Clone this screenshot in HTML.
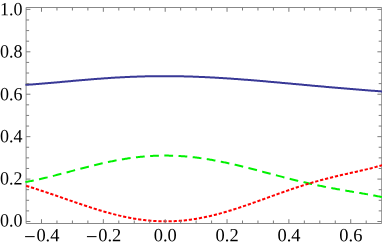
<!DOCTYPE html><html><head><meta charset="utf-8"><style>html,body{margin:0;padding:0;background:#fff}svg{display:block}svg{will-change:transform}text{text-rendering:geometricPrecision;font-family:"Liberation Serif",serif;font-size:18px;fill:#000}</style></head><body>
<svg width="382" height="245" viewBox="0 0 382 245">
<title>Plot of three curves (solid blue, dashed green, dotted red) over x from -0.45 to 0.7</title>
<rect width="382" height="245" fill="#fff"/>
<path d="M26.10 7.50 H381.70 V223.50 H26.10 Z" fill="none" stroke="#888888" stroke-width="1"/>
<g fill="none" stroke-linejoin="round">
<path d="M25.40 84.87 L26.40 84.81 L27.40 84.74 L28.40 84.68 L29.40 84.61 L30.40 84.54 L31.40 84.47 L32.40 84.40 L33.40 84.33 L34.40 84.25 L35.40 84.18 L36.40 84.10 L37.40 84.03 L38.40 83.95 L39.40 83.87 L40.40 83.79 L41.40 83.71 L42.40 83.62 L43.40 83.54 L44.40 83.46 L45.40 83.37 L46.40 83.29 L47.40 83.20 L48.40 83.12 L49.40 83.03 L50.40 82.94 L51.40 82.85 L52.40 82.77 L53.40 82.68 L54.40 82.59 L55.40 82.50 L56.40 82.41 L57.40 82.32 L58.40 82.23 L59.40 82.14 L60.40 82.05 L61.40 81.96 L62.40 81.87 L63.40 81.78 L64.40 81.68 L65.40 81.59 L66.40 81.50 L67.40 81.41 L68.40 81.32 L69.40 81.23 L70.40 81.14 L71.40 81.05 L72.40 80.96 L73.40 80.87 L74.40 80.78 L75.40 80.69 L76.40 80.60 L77.40 80.51 L78.40 80.42 L79.40 80.34 L80.40 80.25 L81.40 80.16 L82.40 80.08 L83.40 79.99 L84.40 79.90 L85.40 79.82 L86.40 79.74 L87.40 79.65 L88.40 79.57 L89.40 79.49 L90.40 79.40 L91.40 79.32 L92.40 79.24 L93.40 79.16 L94.40 79.08 L95.40 79.01 L96.40 78.93 L97.40 78.85 L98.40 78.77 L99.40 78.70 L100.40 78.63 L101.40 78.55 L102.40 78.48 L103.40 78.41 L104.40 78.34 L105.40 78.27 L106.40 78.20 L107.40 78.13 L108.40 78.06 L109.40 78.00 L110.40 77.93 L111.40 77.87 L112.40 77.81 L113.40 77.74 L114.40 77.68 L115.40 77.62 L116.40 77.57 L117.40 77.51 L118.40 77.45 L119.40 77.40 L120.40 77.34 L121.40 77.29 L122.40 77.24 L123.40 77.18 L124.40 77.13 L125.40 77.09 L126.40 77.04 L127.40 76.99 L128.40 76.95 L129.40 76.90 L130.40 76.86 L131.40 76.82 L132.40 76.78 L133.40 76.74 L134.40 76.70 L135.40 76.66 L136.40 76.63 L137.40 76.59 L138.40 76.56 L139.40 76.53 L140.40 76.50 L141.40 76.47 L142.40 76.44 L143.40 76.41 L144.40 76.39 L145.40 76.36 L146.40 76.34 L147.40 76.32 L148.40 76.30 L149.40 76.28 L150.40 76.26 L151.40 76.25 L152.40 76.23 L153.40 76.22 L154.40 76.20 L155.40 76.19 L156.40 76.18 L157.40 76.17 L158.40 76.16 L159.40 76.16 L160.40 76.15 L161.40 76.15 L162.40 76.14 L163.40 76.14 L164.40 76.14 L165.40 76.14 L166.40 76.14 L167.40 76.15 L168.40 76.15 L169.40 76.16 L170.40 76.17 L171.40 76.17 L172.40 76.18 L173.40 76.19 L174.40 76.21 L175.40 76.22 L176.40 76.23 L177.40 76.25 L178.40 76.27 L179.40 76.28 L180.40 76.30 L181.40 76.32 L182.40 76.34 L183.40 76.37 L184.40 76.39 L185.40 76.42 L186.40 76.44 L187.40 76.47 L188.40 76.50 L189.40 76.53 L190.40 76.56 L191.40 76.59 L192.40 76.62 L193.40 76.66 L194.40 76.69 L195.40 76.73 L196.40 76.76 L197.40 76.80 L198.40 76.84 L199.40 76.88 L200.40 76.92 L201.40 76.97 L202.40 77.01 L203.40 77.05 L204.40 77.10 L205.40 77.15 L206.40 77.19 L207.40 77.24 L208.40 77.29 L209.40 77.34 L210.40 77.39 L211.40 77.45 L212.40 77.50 L213.40 77.55 L214.40 77.61 L215.40 77.66 L216.40 77.72 L217.40 77.78 L218.40 77.84 L219.40 77.90 L220.40 77.96 L221.40 78.02 L222.40 78.08 L223.40 78.14 L224.40 78.21 L225.40 78.27 L226.40 78.34 L227.40 78.40 L228.40 78.47 L229.40 78.54 L230.40 78.60 L231.40 78.67 L232.40 78.74 L233.40 78.81 L234.40 78.88 L235.40 78.96 L236.40 79.03 L237.40 79.10 L238.40 79.18 L239.40 79.25 L240.40 79.33 L241.40 79.40 L242.40 79.48 L243.40 79.55 L244.40 79.63 L245.40 79.71 L246.40 79.79 L247.40 79.87 L248.40 79.95 L249.40 80.03 L250.40 80.11 L251.40 80.19 L252.40 80.27 L253.40 80.35 L254.40 80.43 L255.40 80.52 L256.40 80.60 L257.40 80.68 L258.40 80.77 L259.40 80.85 L260.40 80.94 L261.40 81.02 L262.40 81.11 L263.40 81.20 L264.40 81.28 L265.40 81.37 L266.40 81.46 L267.40 81.54 L268.40 81.63 L269.40 81.72 L270.40 81.81 L271.40 81.90 L272.40 81.98 L273.40 82.07 L274.40 82.16 L275.40 82.25 L276.40 82.34 L277.40 82.43 L278.40 82.52 L279.40 82.61 L280.40 82.70 L281.40 82.79 L282.40 82.88 L283.40 82.97 L284.40 83.07 L285.40 83.16 L286.40 83.25 L287.40 83.34 L288.40 83.43 L289.40 83.52 L290.40 83.61 L291.40 83.71 L292.40 83.80 L293.40 83.89 L294.40 83.98 L295.40 84.07 L296.40 84.16 L297.40 84.26 L298.40 84.35 L299.40 84.44 L300.40 84.53 L301.40 84.62 L302.40 84.71 L303.40 84.81 L304.40 84.90 L305.40 84.99 L306.40 85.08 L307.40 85.17 L308.40 85.26 L309.40 85.35 L310.40 85.44 L311.40 85.54 L312.40 85.63 L313.40 85.72 L314.40 85.81 L315.40 85.90 L316.40 85.99 L317.40 86.08 L318.40 86.17 L319.40 86.26 L320.40 86.35 L321.40 86.44 L322.40 86.53 L323.40 86.61 L324.40 86.70 L325.40 86.79 L326.40 86.88 L327.40 86.97 L328.40 87.06 L329.40 87.15 L330.40 87.23 L331.40 87.32 L332.40 87.41 L333.40 87.49 L334.40 87.58 L335.40 87.67 L336.40 87.75 L337.40 87.84 L338.40 87.93 L339.40 88.01 L340.40 88.10 L341.40 88.18 L342.40 88.27 L343.40 88.35 L344.40 88.44 L345.40 88.52 L346.40 88.60 L347.40 88.69 L348.40 88.77 L349.40 88.86 L350.40 88.94 L351.40 89.02 L352.40 89.10 L353.40 89.19 L354.40 89.27 L355.40 89.35 L356.40 89.43 L357.40 89.51 L358.40 89.59 L359.40 89.68 L360.40 89.76 L361.40 89.84 L362.40 89.92 L363.40 90.00 L364.40 90.08 L365.40 90.16 L366.40 90.24 L367.40 90.32 L368.40 90.40 L369.40 90.47 L370.40 90.55 L371.40 90.63 L372.40 90.71 L373.40 90.79 L374.40 90.87 L375.40 90.95 L376.40 91.02 L377.40 91.10 L378.40 91.18 L379.40 91.26 L380.40 91.34 L381.40 91.41 L382.40 91.49" stroke="#383896" stroke-width="2"/>
<path d="M25.40 182.07 L26.40 181.89 L27.40 181.71 L28.40 181.52 L29.40 181.33 L30.40 181.14 L31.40 180.94 L32.40 180.74 L33.40 180.53 L34.40 180.32 L35.40 180.11 L36.40 179.90 L37.40 179.68 L38.40 179.46 L39.40 179.24 L40.40 179.01 L41.40 178.78 L42.40 178.55 L43.40 178.32 L44.40 178.08 L45.40 177.84 L46.40 177.60 L47.40 177.36 L48.40 177.11 L49.40 176.87 L50.40 176.62 L51.40 176.37 L52.40 176.12 L53.40 175.86 L54.40 175.61 L55.40 175.35 L56.40 175.09 L57.40 174.84 L58.40 174.58 L59.40 174.31 L60.40 174.05 L61.40 173.79 L62.40 173.53 L63.40 173.26 L64.40 173.00 L65.40 172.73 L66.40 172.47 L67.40 172.20 L68.40 171.93 L69.40 171.67 L70.40 171.40 L71.40 171.14 L72.40 170.87 L73.40 170.60 L74.40 170.34 L75.40 170.07 L76.40 169.81 L77.40 169.54 L78.40 169.28 L79.40 169.01 L80.40 168.75 L81.40 168.49 L82.40 168.23 L83.40 167.97 L84.40 167.71 L85.40 167.45 L86.40 167.19 L87.40 166.94 L88.40 166.68 L89.40 166.43 L90.40 166.18 L91.40 165.93 L92.40 165.68 L93.40 165.44 L94.40 165.19 L95.40 164.95 L96.40 164.71 L97.40 164.47 L98.40 164.23 L99.40 164.00 L100.40 163.77 L101.40 163.54 L102.40 163.31 L103.40 163.08 L104.40 162.86 L105.40 162.64 L106.40 162.42 L107.40 162.20 L108.40 161.99 L109.40 161.78 L110.40 161.57 L111.40 161.37 L112.40 161.17 L113.40 160.97 L114.40 160.77 L115.40 160.58 L116.40 160.39 L117.40 160.20 L118.40 160.02 L119.40 159.84 L120.40 159.66 L121.40 159.49 L122.40 159.32 L123.40 159.15 L124.40 158.98 L125.40 158.82 L126.40 158.67 L127.40 158.51 L128.40 158.36 L129.40 158.22 L130.40 158.08 L131.40 157.94 L132.40 157.80 L133.40 157.67 L134.40 157.54 L135.40 157.42 L136.40 157.30 L137.40 157.18 L138.40 157.07 L139.40 156.96 L140.40 156.86 L141.40 156.76 L142.40 156.66 L143.40 156.57 L144.40 156.48 L145.40 156.40 L146.40 156.32 L147.40 156.24 L148.40 156.17 L149.40 156.10 L150.40 156.04 L151.40 155.98 L152.40 155.92 L153.40 155.87 L154.40 155.83 L155.40 155.78 L156.40 155.75 L157.40 155.71 L158.40 155.68 L159.40 155.65 L160.40 155.63 L161.40 155.62 L162.40 155.60 L163.40 155.59 L164.40 155.59 L165.40 155.59 L166.40 155.59 L167.40 155.60 L168.40 155.61 L169.40 155.63 L170.40 155.65 L171.40 155.67 L172.40 155.70 L173.40 155.73 L174.40 155.77 L175.40 155.81 L176.40 155.86 L177.40 155.91 L178.40 155.96 L179.40 156.02 L180.40 156.08 L181.40 156.14 L182.40 156.21 L183.40 156.29 L184.40 156.36 L185.40 156.45 L186.40 156.53 L187.40 156.62 L188.40 156.71 L189.40 156.81 L190.40 156.91 L191.40 157.02 L192.40 157.13 L193.40 157.24 L194.40 157.35 L195.40 157.47 L196.40 157.60 L197.40 157.72 L198.40 157.85 L199.40 157.99 L200.40 158.13 L201.40 158.27 L202.40 158.41 L203.40 158.56 L204.40 158.71 L205.40 158.87 L206.40 159.02 L207.40 159.19 L208.40 159.35 L209.40 159.52 L210.40 159.69 L211.40 159.86 L212.40 160.04 L213.40 160.22 L214.40 160.40 L215.40 160.59 L216.40 160.78 L217.40 160.97 L218.40 161.16 L219.40 161.36 L220.40 161.56 L221.40 161.76 L222.40 161.97 L223.40 162.17 L224.40 162.38 L225.40 162.60 L226.40 162.81 L227.40 163.03 L228.40 163.25 L229.40 163.47 L230.40 163.69 L231.40 163.92 L232.40 164.14 L233.40 164.37 L234.40 164.61 L235.40 164.84 L236.40 165.08 L237.40 165.31 L238.40 165.55 L239.40 165.79 L240.40 166.03 L241.40 166.28 L242.40 166.52 L243.40 166.77 L244.40 167.02 L245.40 167.27 L246.40 167.52 L247.40 167.77 L248.40 168.02 L249.40 168.28 L250.40 168.53 L251.40 168.79 L252.40 169.05 L253.40 169.30 L254.40 169.56 L255.40 169.82 L256.40 170.08 L257.40 170.34 L258.40 170.60 L259.40 170.87 L260.40 171.13 L261.40 171.39 L262.40 171.65 L263.40 171.92 L264.40 172.18 L265.40 172.44 L266.40 172.71 L267.40 172.97 L268.40 173.24 L269.40 173.50 L270.40 173.76 L271.40 174.03 L272.40 174.29 L273.40 174.55 L274.40 174.82 L275.40 175.08 L276.40 175.34 L277.40 175.60 L278.40 175.87 L279.40 176.13 L280.40 176.39 L281.40 176.65 L282.40 176.90 L283.40 177.16 L284.40 177.42 L285.40 177.68 L286.40 177.93 L287.40 178.19 L288.40 178.44 L289.40 178.69 L290.40 178.94 L291.40 179.19 L292.40 179.44 L293.40 179.69 L294.40 179.94 L295.40 180.19 L296.40 180.43 L297.40 180.67 L298.40 180.92 L299.40 181.16 L300.40 181.40 L301.40 181.63 L302.40 181.87 L303.40 182.10 L304.40 182.34 L305.40 182.57 L306.40 182.80 L307.40 183.03 L308.40 183.26 L309.40 183.48 L310.40 183.71 L311.40 183.93 L312.40 184.15 L313.40 184.37 L314.40 184.59 L315.40 184.80 L316.40 185.02 L317.40 185.23 L318.40 185.44 L319.40 185.65 L320.40 185.86 L321.40 186.06 L322.40 186.27 L323.40 186.47 L324.40 186.67 L325.40 186.87 L326.40 187.07 L327.40 187.27 L328.40 187.46 L329.40 187.65 L330.40 187.85 L331.40 188.04 L332.40 188.22 L333.40 188.41 L334.40 188.60 L335.40 188.78 L336.40 188.97 L337.40 189.15 L338.40 189.33 L339.40 189.51 L340.40 189.69 L341.40 189.86 L342.40 190.04 L343.40 190.21 L344.40 190.39 L345.40 190.56 L346.40 190.73 L347.40 190.91 L348.40 191.08 L349.40 191.25 L350.40 191.42 L351.40 191.59 L352.40 191.75 L353.40 191.92 L354.40 192.09 L355.40 192.26 L356.40 192.43 L357.40 192.60 L358.40 192.77 L359.40 192.94 L360.40 193.10 L361.40 193.27 L362.40 193.44 L363.40 193.62 L364.40 193.79 L365.40 193.96 L366.40 194.14 L367.40 194.31 L368.40 194.49 L369.40 194.67 L370.40 194.85 L371.40 195.03 L372.40 195.21 L373.40 195.40 L374.40 195.59 L375.40 195.78 L376.40 195.97 L377.40 196.17 L378.40 196.37 L379.40 196.57 L380.40 196.77 L381.40 196.98 L382.40 197.19" stroke="#00f000" stroke-width="2.0" stroke-dasharray="8.8 5.41" stroke-dashoffset="0.3"/>
<path d="M25.40 185.59 L26.40 185.90 L27.40 186.20 L28.40 186.51 L29.40 186.82 L30.40 187.14 L31.40 187.45 L32.40 187.77 L33.40 188.08 L34.40 188.40 L35.40 188.72 L36.40 189.05 L37.40 189.37 L38.40 189.69 L39.40 190.02 L40.40 190.35 L41.40 190.68 L42.40 191.01 L43.40 191.34 L44.40 191.68 L45.40 192.01 L46.40 192.35 L47.40 192.68 L48.40 193.02 L49.40 193.36 L50.40 193.70 L51.40 194.04 L52.40 194.38 L53.40 194.73 L54.40 195.07 L55.40 195.41 L56.40 195.76 L57.40 196.10 L58.40 196.45 L59.40 196.80 L60.40 197.14 L61.40 197.49 L62.40 197.84 L63.40 198.19 L64.40 198.53 L65.40 198.88 L66.40 199.23 L67.40 199.58 L68.40 199.93 L69.40 200.27 L70.40 200.62 L71.40 200.97 L72.40 201.31 L73.40 201.66 L74.40 202.00 L75.40 202.35 L76.40 202.69 L77.40 203.03 L78.40 203.38 L79.40 203.72 L80.40 204.06 L81.40 204.39 L82.40 204.73 L83.40 205.07 L84.40 205.40 L85.40 205.73 L86.40 206.07 L87.40 206.40 L88.40 206.72 L89.40 207.05 L90.40 207.37 L91.40 207.70 L92.40 208.02 L93.40 208.34 L94.40 208.65 L95.40 208.96 L96.40 209.28 L97.40 209.59 L98.40 209.89 L99.40 210.20 L100.40 210.50 L101.40 210.80 L102.40 211.09 L103.40 211.38 L104.40 211.67 L105.40 211.96 L106.40 212.24 L107.40 212.53 L108.40 212.80 L109.40 213.08 L110.40 213.35 L111.40 213.61 L112.40 213.88 L113.40 214.14 L114.40 214.39 L115.40 214.65 L116.40 214.90 L117.40 215.14 L118.40 215.38 L119.40 215.62 L120.40 215.85 L121.40 216.08 L122.40 216.31 L123.40 216.53 L124.40 216.74 L125.40 216.96 L126.40 217.16 L127.40 217.37 L128.40 217.56 L129.40 217.76 L130.40 217.95 L131.40 218.13 L132.40 218.31 L133.40 218.49 L134.40 218.66 L135.40 218.82 L136.40 218.98 L137.40 219.14 L138.40 219.29 L139.40 219.44 L140.40 219.58 L141.40 219.71 L142.40 219.84 L143.40 219.97 L144.40 220.09 L145.40 220.20 L146.40 220.31 L147.40 220.42 L148.40 220.51 L149.40 220.61 L150.40 220.70 L151.40 220.78 L152.40 220.86 L153.40 220.93 L154.40 220.99 L155.40 221.05 L156.40 221.11 L157.40 221.16 L158.40 221.20 L159.40 221.24 L160.40 221.27 L161.40 221.30 L162.40 221.32 L163.40 221.34 L164.40 221.35 L165.40 221.35 L166.40 221.35 L167.40 221.35 L168.40 221.33 L169.40 221.32 L170.40 221.29 L171.40 221.26 L172.40 221.23 L173.40 221.19 L174.40 221.14 L175.40 221.09 L176.40 221.03 L177.40 220.97 L178.40 220.90 L179.40 220.83 L180.40 220.75 L181.40 220.66 L182.40 220.57 L183.40 220.48 L184.40 220.38 L185.40 220.27 L186.40 220.16 L187.40 220.04 L188.40 219.92 L189.40 219.79 L190.40 219.65 L191.40 219.51 L192.40 219.37 L193.40 219.22 L194.40 219.07 L195.40 218.91 L196.40 218.74 L197.40 218.57 L198.40 218.40 L199.40 218.22 L200.40 218.03 L201.40 217.84 L202.40 217.65 L203.40 217.45 L204.40 217.25 L205.40 217.04 L206.40 216.83 L207.40 216.61 L208.40 216.39 L209.40 216.16 L210.40 215.93 L211.40 215.69 L212.40 215.45 L213.40 215.21 L214.40 214.96 L215.40 214.71 L216.40 214.45 L217.40 214.19 L218.40 213.93 L219.40 213.66 L220.40 213.39 L221.40 213.11 L222.40 212.83 L223.40 212.55 L224.40 212.27 L225.40 211.98 L226.40 211.68 L227.40 211.39 L228.40 211.09 L229.40 210.78 L230.40 210.48 L231.40 210.17 L232.40 209.86 L233.40 209.54 L234.40 209.23 L235.40 208.91 L236.40 208.58 L237.40 208.26 L238.40 207.93 L239.40 207.60 L240.40 207.27 L241.40 206.93 L242.40 206.60 L243.40 206.26 L244.40 205.92 L245.40 205.58 L246.40 205.23 L247.40 204.89 L248.40 204.54 L249.40 204.19 L250.40 203.84 L251.40 203.49 L252.40 203.13 L253.40 202.78 L254.40 202.42 L255.40 202.07 L256.40 201.71 L257.40 201.35 L258.40 200.99 L259.40 200.63 L260.40 200.27 L261.40 199.91 L262.40 199.55 L263.40 199.19 L264.40 198.83 L265.40 198.46 L266.40 198.10 L267.40 197.74 L268.40 197.38 L269.40 197.02 L270.40 196.65 L271.40 196.29 L272.40 195.93 L273.40 195.57 L274.40 195.21 L275.40 194.85 L276.40 194.49 L277.40 194.13 L278.40 193.77 L279.40 193.42 L280.40 193.06 L281.40 192.71 L282.40 192.35 L283.40 192.00 L284.40 191.65 L285.40 191.30 L286.40 190.95 L287.40 190.61 L288.40 190.26 L289.40 189.92 L290.40 189.58 L291.40 189.23 L292.40 188.90 L293.40 188.56 L294.40 188.22 L295.40 187.89 L296.40 187.56 L297.40 187.23 L298.40 186.90 L299.40 186.58 L300.40 186.26 L301.40 185.94 L302.40 185.62 L303.40 185.30 L304.40 184.99 L305.40 184.68 L306.40 184.37 L307.40 184.06 L308.40 183.75 L309.40 183.45 L310.40 183.15 L311.40 182.86 L312.40 182.56 L313.40 182.27 L314.40 181.98 L315.40 181.69 L316.40 181.41 L317.40 181.13 L318.40 180.85 L319.40 180.57 L320.40 180.29 L321.40 180.02 L322.40 179.75 L323.40 179.48 L324.40 179.22 L325.40 178.96 L326.40 178.70 L327.40 178.44 L328.40 178.18 L329.40 177.93 L330.40 177.68 L331.40 177.43 L332.40 177.18 L333.40 176.94 L334.40 176.70 L335.40 176.46 L336.40 176.22 L337.40 175.98 L338.40 175.74 L339.40 175.51 L340.40 175.28 L341.40 175.05 L342.40 174.82 L343.40 174.59 L344.40 174.36 L345.40 174.14 L346.40 173.91 L347.40 173.69 L348.40 173.47 L349.40 173.24 L350.40 173.02 L351.40 172.80 L352.40 172.58 L353.40 172.35 L354.40 172.13 L355.40 171.91 L356.40 171.69 L357.40 171.46 L358.40 171.24 L359.40 171.02 L360.40 170.79 L361.40 170.56 L362.40 170.33 L363.40 170.10 L364.40 169.87 L365.40 169.63 L366.40 169.39 L367.40 169.15 L368.40 168.91 L369.40 168.66 L370.40 168.41 L371.40 168.16 L372.40 167.90 L373.40 167.64 L374.40 167.37 L375.40 167.10 L376.40 166.83 L377.40 166.55 L378.40 166.26 L379.40 165.97 L380.40 165.67 L381.40 165.36 L382.40 165.05" stroke="#f00" stroke-width="2.0" stroke-dasharray="3.25 1.837" stroke-dashoffset="-0.77"/>
</g>
<path d="M26.10 221.50 h4.30 M381.70 221.50 h-4.30 M26.10 210.89 h3.00 M381.70 210.89 h-3.00 M26.10 200.29 h3.00 M381.70 200.29 h-3.00 M26.10 189.68 h3.00 M381.70 189.68 h-3.00 M26.10 179.08 h4.30 M381.70 179.08 h-4.30 M26.10 168.47 h3.00 M381.70 168.47 h-3.00 M26.10 157.86 h3.00 M381.70 157.86 h-3.00 M26.10 147.26 h3.00 M381.70 147.26 h-3.00 M26.10 136.65 h4.30 M381.70 136.65 h-4.30 M26.10 126.05 h3.00 M381.70 126.05 h-3.00 M26.10 115.44 h3.00 M381.70 115.44 h-3.00 M26.10 104.83 h3.00 M381.70 104.83 h-3.00 M26.10 94.23 h4.30 M381.70 94.23 h-4.30 M26.10 83.62 h3.00 M381.70 83.62 h-3.00 M26.10 73.02 h3.00 M381.70 73.02 h-3.00 M26.10 62.41 h3.00 M381.70 62.41 h-3.00 M26.10 51.80 h4.30 M381.70 51.80 h-4.30 M26.10 41.20 h3.00 M381.70 41.20 h-3.00 M26.10 30.59 h3.00 M381.70 30.59 h-3.00 M26.10 19.99 h3.00 M381.70 19.99 h-3.00 M26.10 9.38 h4.30 M381.70 9.38 h-4.30 M41.49 223.50 v-4.30 M41.49 7.50 v4.30 M56.96 223.50 v-3.00 M56.96 7.50 v3.00 M72.42 223.50 v-3.00 M72.42 7.50 v3.00 M87.88 223.50 v-3.00 M87.88 7.50 v3.00 M103.34 223.50 v-4.30 M103.34 7.50 v4.30 M118.80 223.50 v-3.00 M118.80 7.50 v3.00 M134.27 223.50 v-3.00 M134.27 7.50 v3.00 M149.73 223.50 v-3.00 M149.73 7.50 v3.00 M165.19 223.50 v-4.30 M165.19 7.50 v4.30 M180.65 223.50 v-3.00 M180.65 7.50 v3.00 M196.11 223.50 v-3.00 M196.11 7.50 v3.00 M211.58 223.50 v-3.00 M211.58 7.50 v3.00 M227.04 223.50 v-4.30 M227.04 7.50 v4.30 M242.50 223.50 v-3.00 M242.50 7.50 v3.00 M257.96 223.50 v-3.00 M257.96 7.50 v3.00 M273.42 223.50 v-3.00 M273.42 7.50 v3.00 M288.89 223.50 v-4.30 M288.89 7.50 v4.30 M304.35 223.50 v-3.00 M304.35 7.50 v3.00 M319.81 223.50 v-3.00 M319.81 7.50 v3.00 M335.27 223.50 v-3.00 M335.27 7.50 v3.00 M350.73 223.50 v-4.30 M350.73 7.50 v4.30 M366.20 223.50 v-3.00 M366.20 7.50 v3.00" fill="none" stroke="#7c7c7c" stroke-width="1"/>
<text transform="translate(22.50 226.40) rotate(0.05) scale(1.000 1.035)" text-anchor="end">0.0</text>
<text transform="translate(22.50 184.48) rotate(0.05) scale(1.000 1.035)" text-anchor="end">0.2</text>
<text transform="translate(22.50 142.15) rotate(0.05) scale(1.000 1.035)" text-anchor="end">0.4</text>
<text transform="translate(22.50 100.23) rotate(0.05) scale(1.000 1.035)" text-anchor="end">0.6</text>
<text transform="translate(22.50 57.60) rotate(0.05) scale(1.000 1.035)" text-anchor="end">0.8</text>
<text transform="translate(22.50 15.38) rotate(0.05) scale(1.000 1.035)" text-anchor="end">1.0</text>
<text transform="translate(36.39 241.30) rotate(0.05) scale(1.025 1.035)" text-anchor="start">0.4</text>
<rect x="25.09" y="236.1" width="9.6" height="1.05" fill="#000"/>
<text transform="translate(98.24 241.30) rotate(0.05) scale(1.025 1.035)" text-anchor="start">0.2</text>
<rect x="86.94" y="236.1" width="9.6" height="1.05" fill="#000"/>
<text transform="translate(165.29 241.30) rotate(0.05) scale(1.025 1.035)" text-anchor="middle">0.0</text>
<text transform="translate(227.14 241.30) rotate(0.05) scale(1.025 1.035)" text-anchor="middle">0.2</text>
<text transform="translate(288.99 241.30) rotate(0.05) scale(1.025 1.035)" text-anchor="middle">0.4</text>
<text transform="translate(350.83 241.30) rotate(0.05) scale(1.025 1.035)" text-anchor="middle">0.6</text>
</svg></body></html>
